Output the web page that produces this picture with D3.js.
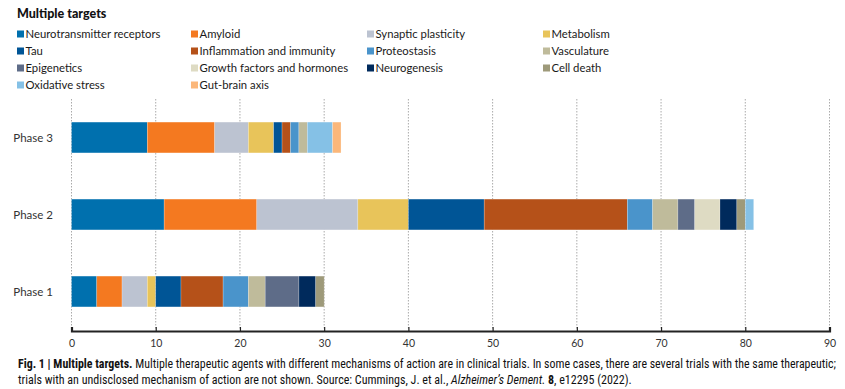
<!DOCTYPE html>
<html>
<head>
<meta charset="utf-8">
<script src="https://cdn.jsdelivr.net/npm/d3@7"></script>
<style>
  body { margin: 0; background: #fff; }
  svg { display: block; font-family: Lato, "Noto Sans", sans-serif; }
</style>
</head>
<body>
<script>
// categories in stacking order
var categories = ["Neurotransmitter receptors", "Amyloid", "Synaptic plasticity", "Metabolism",
  "Tau", "Inflammation and immunity", "Proteostasis", "Vasculature",
  "Epigenetics", "Growth factors and hormones", "Neurogenesis", "Cell death",
  "Oxidative stress", "Gut-brain axis"];
var colors = ["#0070ae", "#f47920", "#bcc3d1", "#e8c45a",
  "#005596", "#b55119", "#4a94cb", "#bfbb9b",
  "#5e6c88", "#dedbc3", "#002a5c", "#9e9a7a",
  "#85c1e6", "#fbb77a"];
var phases = ["Phase 3", "Phase 2", "Phase 1"];
var phase3 = [9, 8, 4, 3, 1, 1, 1, 1, 0, 0, 0, 0, 3, 1];
var phase2 = [11, 11, 12, 6, 9, 17, 3, 3, 2, 3, 2, 1, 1, 0];
var phase1 = [3, 3, 3, 1, 3, 5, 3, 2, 4, 0, 2, 1, 0, 0];
var xTicks = [0, 10, 20, 30, 40, 50, 60, 70, 80, 90];

var w = 845, h = 389;
var svg = d3.select("body").append("svg").attr("width", w).attr("height", h);

var color = d3.scaleOrdinal().domain(categories).range(colors);

// title
svg.append("text").attr("x", 17).attr("y", 18)
  .attr("font-size", 12.5).attr("font-weight", 900).attr("fill", "#111")
  .text("Multiple targets");

// legend: 4 columns, filled row by row
var colX = [17, 191, 367, 543];
var legend = svg.append("g").selectAll("g")
  .data(categories).enter().append("g")
  .attr("transform", function(d, i) {
    return "translate(" + colX[i % 4] + "," + (34 + Math.floor(i / 4) * 17) + ")";
  });
legend.append("rect").attr("x", 0).attr("y", -3.5).attr("width", 7).attr("height", 7)
  .attr("fill", function(d) { return color(d); });
legend.append("text").attr("x", 8.5).attr("y", 0).attr("dy", "0.35em")
  .attr("font-size", 11.3).attr("fill", "#1a1a1a")
  .text(function(d) { return d; });

// data table
var rows = phases.map(function(p, i) {
  var vals = [phase3, phase2, phase1][i];
  var r = { phase: p };
  categories.forEach(function(c, j) { r[c] = vals[j]; });
  return r;
});
var series = d3.stack().keys(categories)(rows);

var x = d3.scaleLinear().domain([0, 90]).range([71.5, 829.5]);
var y = d3.scaleBand().domain(phases).range([99, 330]).paddingInner(0.6).paddingOuter(0.3);

// dotted gridlines
svg.append("g").selectAll("line").data(xTicks).enter().append("line")
  .attr("x1", function(d) { return x(d); }).attr("x2", function(d) { return x(d); })
  .attr("y1", 99).attr("y2", 330)
  .attr("stroke", "#aaa").attr("stroke-width", 1).attr("stroke-dasharray", "1.5,1.5");

// bars
svg.append("g").selectAll("g").data(series).enter().append("g")
  .attr("fill", function(d) { return color(d.key); })
  .selectAll("rect").data(function(d) { return d; }).enter().append("rect")
  .attr("x", function(d) { return x(d[0]); })
  .attr("width", function(d) { return x(d[1]) - x(d[0]); })
  .attr("y", function(d) { return y(d.data.phase); })
  .attr("height", y.bandwidth())
  .attr("stroke", "#fff").attr("stroke-opacity", 0.35).attr("stroke-width", 0.6);

// phase labels
svg.append("g").selectAll("text").data(phases).enter().append("text")
  .attr("x", 53).attr("y", function(d) { return y(d) + y.bandwidth() / 2; })
  .attr("dy", "0.35em").attr("text-anchor", "end")
  .attr("font-size", 11.5).attr("fill", "#333")
  .text(function(d) { return d; });

// x axis
var xAxis = svg.append("g").attr("transform", "translate(0,331)")
  .call(d3.axisBottom(x).tickValues(xTicks).tickSize(-4).tickPadding(9));
xAxis.select(".domain").attr("stroke", "#222").attr("stroke-width", 2.2);
xAxis.selectAll(".tick line").attr("stroke", "#222").attr("stroke-width", 1.2);
xAxis.selectAll(".tick text").attr("font-size", 10.5).attr("fill", "#333")
  .attr("font-family", "Lato, sans-serif");

// caption
var cap = svg.append("g").attr("font-family", "'Liberation Sans Narrow', 'Roboto Condensed', sans-serif")
  .attr("font-size", 12).attr("fill", "#111");
var l1 = cap.append("text").attr("x", 18).attr("y", 368)
  .attr("textLength", 818).attr("lengthAdjust", "spacingAndGlyphs");
l1.append("tspan").attr("font-weight", "bold").text("Fig. 1 | Multiple targets.");
l1.append("tspan").text(" Multiple therapeutic agents with different mechanisms of action are in clinical trials. In some cases, there are several trials with the same therapeutic;");
var l2 = cap.append("text").attr("x", 18).attr("y", 384);
l2.append("tspan").text("trials with an undisclosed mechanism of action are not shown. Source: Cummings, J. et al., ");
l2.append("tspan").attr("font-style", "italic").text("Alzheimer’s Dement.");
l2.append("tspan").attr("font-weight", "bold").text(" 8");
l2.append("tspan").text(", e12295 (2022).");
</script>
</body>
</html>
